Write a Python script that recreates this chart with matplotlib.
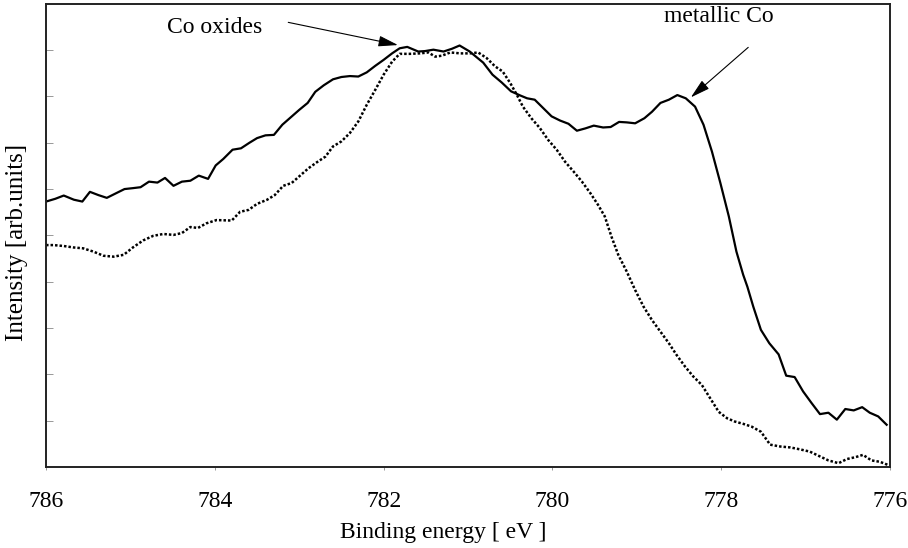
import matplotlib.pyplot as plt

# XPS Co 2p3/2 region
energy_a = [786.00, 785.89, 785.79, 785.67, 785.57, 785.48, 785.38, 785.28, 785.17, 785.07,
            784.97, 784.88, 784.78, 784.68, 784.59, 784.49, 784.39, 784.29, 784.19, 784.08,
            783.99, 783.90, 783.79, 783.69, 783.59, 783.50, 783.40, 783.30, 783.20, 783.10,
            783.00, 782.90, 782.81, 782.71, 782.60, 782.50, 782.40, 782.30, 782.20, 782.10,
            782.00, 781.90, 781.81, 781.72, 781.59, 781.51, 781.41, 781.29, 781.19, 781.10,
            780.98, 780.82, 780.71, 780.60, 780.49, 780.38, 780.30, 780.21, 780.11, 780.01,
            779.91, 779.81, 779.71, 779.61, 779.51, 779.40, 779.31, 779.21, 779.12, 779.02,
            778.91, 778.82, 778.72, 778.62, 778.52, 778.42, 778.31, 778.21, 778.11, 778.01,
            777.91, 777.82, 777.74, 777.69, 777.62, 777.53, 777.43, 777.32, 777.23, 777.13,
            777.03, 776.93, 776.83, 776.73, 776.63, 776.53, 776.43, 776.33, 776.24, 776.14,
            776.04]
intensity_a = [5.73, 5.79, 5.86, 5.77, 5.73, 5.94, 5.87, 5.81, 5.91, 6.00,
               6.02, 6.04, 6.16, 6.14, 6.24, 6.07, 6.16, 6.18, 6.29, 6.22,
               6.51, 6.65, 6.85, 6.88, 7.00, 7.10, 7.16, 7.17, 7.39, 7.55,
               7.71, 7.86, 8.10, 8.24, 8.37, 8.42, 8.44, 8.43, 8.52, 8.66,
               8.79, 8.93, 9.04, 9.07, 8.97, 8.98, 9.01, 8.97, 9.03, 9.10,
               8.97, 8.73, 8.47, 8.30, 8.11, 8.02, 7.96, 7.93, 7.75, 7.57,
               7.48, 7.41, 7.26, 7.31, 7.37, 7.33, 7.34, 7.45, 7.44, 7.42,
               7.53, 7.67, 7.86, 7.93, 8.03, 7.96, 7.78, 7.39, 6.81, 6.13,
               5.41, 4.65, 4.15, 3.89, 3.46, 2.96, 2.67, 2.43, 1.97, 1.94,
               1.63, 1.38, 1.14, 1.17, 1.02, 1.25, 1.22, 1.29, 1.17, 1.09,
               0.91]

energy_b = [786.00, 785.91, 785.79, 785.68, 785.56, 785.44, 785.32, 785.20, 785.08, 784.97,
            784.85, 784.73, 784.61, 784.49, 784.39, 784.29, 784.20, 784.10, 783.98, 783.80,
            783.70, 783.60, 783.50, 783.38, 783.29, 783.19, 783.09, 782.99, 782.89, 782.79,
            782.69, 782.60, 782.50, 782.40, 782.30, 782.20, 782.10, 782.00, 781.90, 781.81,
            781.69, 781.57, 781.47, 781.39, 781.31, 781.21, 781.09, 780.98, 780.88, 780.78,
            780.68, 780.59, 780.50, 780.42, 780.35, 780.25, 780.15, 780.05, 779.95, 779.85,
            779.75, 779.65, 779.55, 779.46, 779.38, 779.30, 779.22, 779.12, 779.02, 778.92,
            778.82, 778.72, 778.62, 778.53, 778.43, 778.33, 778.23, 778.13, 778.03, 777.93,
            777.84, 777.74, 777.64, 777.53, 777.42, 777.30, 777.18, 777.07, 776.95, 776.87,
            776.73, 776.61, 776.51, 776.41, 776.32, 776.22, 776.12, 776.02]
intensity_b = [4.79, 4.79, 4.77, 4.74, 4.72, 4.65, 4.56, 4.54, 4.58, 4.74,
               4.89, 4.99, 5.03, 5.01, 5.05, 5.18, 5.16, 5.26, 5.33, 5.32,
               5.51, 5.55, 5.68, 5.77, 5.87, 6.07, 6.13, 6.29, 6.45, 6.58,
               6.70, 6.92, 7.03, 7.21, 7.46, 7.82, 8.14, 8.47, 8.75, 8.92,
               8.92, 8.93, 8.95, 8.86, 8.88, 8.95, 8.93, 8.93, 8.95, 8.83,
               8.65, 8.54, 8.29, 8.03, 7.78, 7.53, 7.32, 7.06, 6.85, 6.59,
               6.38, 6.16, 5.91, 5.66, 5.41, 4.97, 4.58, 4.22, 3.82, 3.46,
               3.17, 2.92, 2.67, 2.42, 2.17, 1.95, 1.77, 1.48, 1.19, 1.05,
               0.98, 0.93, 0.87, 0.76, 0.48, 0.44, 0.42, 0.38, 0.33, 0.26,
               0.14, 0.08, 0.17, 0.21, 0.26, 0.14, 0.11, 0.04]

x_ticks = [786, 784, 782, 780, 778, 776]

plt.rcParams['font.family'] = ['Liberation Serif', 'DejaVu Serif']

fig = plt.figure(figsize=(9.08, 5.48), dpi=100)
ax = fig.add_axes([0.0507, 0.148, 0.9295, 0.845])

ax.plot(energy_a, intensity_a, color='black', lw=1.6)
ax.plot(energy_b, intensity_b, color='black', lw=1.8, linestyle=(0, (1, 0.8)))

ax.set_xlim(786, 776)
ax.set_ylim(0, 10)
ax.set_xticks(x_ticks)
ax.set_xticklabels([str(t) for t in x_ticks], fontsize=17)
ax.set_yticks(range(1, 10))
ax.set_yticklabels([])
ax.tick_params(axis='y', direction='in', length=5, width=0.6, color='#888888')
ax.tick_params(axis='x', direction='out', length=2, width=0.6, color='#888888', pad=15)
for s in ax.spines.values():
    s.set_linewidth(1.4)
    s.set_color('#222222')

ax.set_xlabel('Binding energy [ eV ]', fontsize=17)
ax.xaxis.set_label_coords(0.471, -0.119)
ax.set_ylabel('Intensity [arb.units]', fontsize=18)
ax.yaxis.set_label_coords(-0.021, 0.485)

arrow = dict(arrowstyle='-|>,head_length=0.8,head_width=0.22', color='black',
             lw=0.8, mutation_scale=15, shrinkA=0, shrinkB=0)

# Co oxides label + arrow
ax.text(784.0, 9.48, 'Co oxides', fontsize=17, ha='center', va='center')
ax.annotate('', xy=(781.83, 9.11), xytext=(783.13, 9.60), arrowprops=arrow)

# metallic Co label + arrow
ax.text(778.03, 9.73, 'metallic Co', fontsize=17, ha='center', va='center')
ax.annotate('', xy=(778.36, 7.98), xytext=(777.68, 9.06), arrowprops=arrow)

fig.savefig('out.png', dpi=100)
